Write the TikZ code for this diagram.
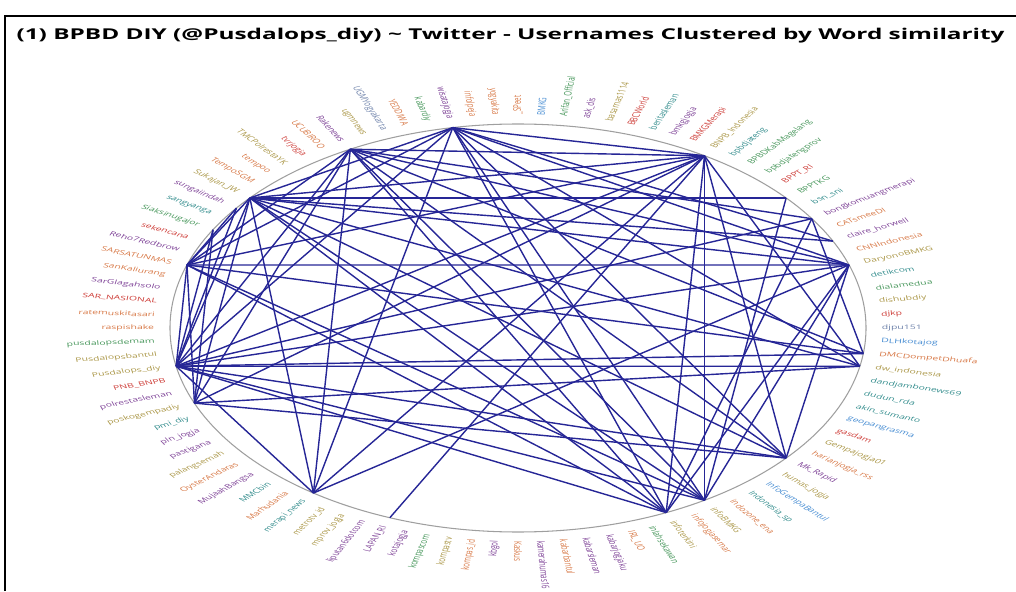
\documentclass[tikz,border=0pt]{standalone}
\usepackage{fontspec}
\setmainfont{Open Sans}
\usetikzlibrary{arrows.meta, positioning}

\definecolor{edgeblue}{RGB}{38,38,150}
\definecolor{cP}{RGB}{125,65,150}
\definecolor{cG}{RGB}{70,150,90}
\definecolor{cO}{RGB}{215,120,70}
\definecolor{cL}{RGB}{170,150,70}
\definecolor{cR}{RGB}{205,60,55}
\definecolor{cB}{RGB}{70,140,210}
\definecolor{cT}{RGB}{50,140,140}
\definecolor{cS}{RGB}{110,130,170}

\tikzset{
    edge/.style={draw=edgeblue, line width=0.8pt},
    ring/.style={draw=gray!75, line width=0.6pt},
    uname/.style={font=\fontsize{3.5}{4}\selectfont, inner sep=0pt},
    frame/.style={draw=black, line width=1.2pt},
    heading/.style={font=\bfseries\fontsize{8.5}{10}\selectfont, anchor=west, inner sep=0pt}
}

\begin{document}
\begin{tikzpicture}[x=0.02cm, y=0.02cm]
    \useasboundingbox (-518,-263) rectangle (498,328);
    \coordinate (corner) at (-513,312);
    \draw[frame] (-513,-263) -- (corner) -- (498,312);
    \node[heading, xscale=1.63] (title) at (-502,292) {(1) BPBD DIY (@Pusdalops\_diy) \textasciitilde\ Twitter - Usernames Clustered by Word similarity};

    \begin{scope}[xscale=1.706, transform shape]
    \draw[ring] (0,0) circle (204);
    \foreach \lab/\col [count=\i from 0] in {
        \_SPeet/cO, BMKG/cB, Arifan\_Official/cG, ask\_dis/cP, basarnas1114/cL,
        BBCWorld/cR, beritasleman/cT, bmkgjogja/cP, BMKGMerapi/cR, BNPB\_Indonesia/cL,
        bpbdjateng/cT, BPBDKabMagelang/cG, bpbdjatengprov/cG, BPPT\_RI/cR, BPPTKG/cG,
        bsn\_sni/cT, bongkomuangmerapi/cP, CATsmeeDI/cO, claire\_horwell/cP, CNNIndonesia/cO,
        DaryonoBMKG/cL, detikcom/cT, dialamedua/cG, dishubdiy/cL, djkp/cR,
        djpu151/cS, DLHkotajog/cB, DMCDompetDhuafa/cO, dw\_indonesia/cL, dandjambonews69/cT,
        dudun\_rda/cT, akin\_sumanto/cT, geopangrasma/cB, gasdam/cR, Gempajogja01/cL,
        harianjogja\_rss/cO, Mk\_Rapid/cP, humas\_jogja/cL, InfoGempaBantul/cB, Indonesia\_sp/cT,
        indozone\_ena/cO, infoBMKG/cL, infojogjasemar/cO, infoterkini/cL, inlahsekawan/cG,
        IRL\_UO/cO, kabarjogjaku/cP, kabarsleman/cP, kabarbantul/cO, kamerahumas16/cP,
        Kaskus/cO, kbgol/cP, kompas\_id/cO, kompastv/cL, kompascom/cG,
        kotajogja/cP, LAPAN\_RI/cP, liputan6dotcom/cP, mprov\_jogja/cL, metrotv\_id/cL,
        merapi\_news/cT, Marhudania/cO, MMCbin/cT, MujaahBangsa/cP, OysterAndaras/cO,
        palangsemah/cL, pastigana/cP, pln\_jogja/cP, pmi\_diy/cT, poskogempadiy/cL,
        polrestasleman/cP, PNB\_BNPB/cR, Pusdalops\_diy/cL, Pusdalopsbantul/cL, pusdalopsdemam/cG,
        raspishake/cO, ratemuskitasari/cO, SAR\_NASIONAL/cR, SarGlagahsolo/cP, SanKaliurang/cO,
        SARSATUNMAS/cO, Reho7Redbrow/cP, sekencana/cR, Siaksinugajor/cG, sangyanga/cT,
        sungaiindah/cP, Sukajan\_JW/cL, TempoSGM/cO, tempoo/cO, TMCPolrestaYK/cL,
        tvrjogja/cR, UCUBIROO/cO, Rakenews/cP, ugmnews/cL, UGMYogyakarta/cS,
        YEDDIWA/cO, kabardiy/cG, wisatajogja/cP, infolpeja/cO, yogyakita/cO}{
        \pgfmathsetmacro{\a}{90-3.6*\i}
        \pgfmathtruncatemacro{\flip}{cos(\a)<-0.01}
        \ifnum\flip=1
            \def\anc{east}\pgfmathsetmacro{\rot}{\a+180}
        \else
            \def\anc{west}\let\rot\a
        \fi
        \coordinate (u\i) at (\a:204);
        \node[uname, text=\col, rotate=\rot, anchor=\anc] (t\i) at (\a:213) {\lab};
    }
    \end{scope}

    \foreach \p/\q in {97/86, 97/80, 97/72, 97/9, 97/20, 97/28, 97/36, 97/41, 97/43, 97/60, 97/18,
        92/80, 92/72, 92/69, 92/60, 92/43, 92/41, 92/36, 92/27, 92/20, 92/16, 92/9,
        86/80, 86/72, 86/69, 86/60, 86/43, 86/41, 86/36, 86/28, 86/20, 86/14, 86/9, 86/18,
        80/72, 80/69, 80/20, 80/9, 80/27, 80/41, 80/43, 80/85,
        72/85, 72/83, 72/9, 72/20, 72/27, 72/28, 72/36, 72/41, 72/43, 72/60, 72/16,
        69/9, 69/28, 69/36, 69/83,
        60/9, 60/20, 56/9,
        43/9, 43/20, 43/16, 41/9, 41/20, 41/14, 36/9, 36/20, 28/9, 27/16}
        \draw[edge] (u\p) -- (u\q);
\end{tikzpicture}
\end{document}
